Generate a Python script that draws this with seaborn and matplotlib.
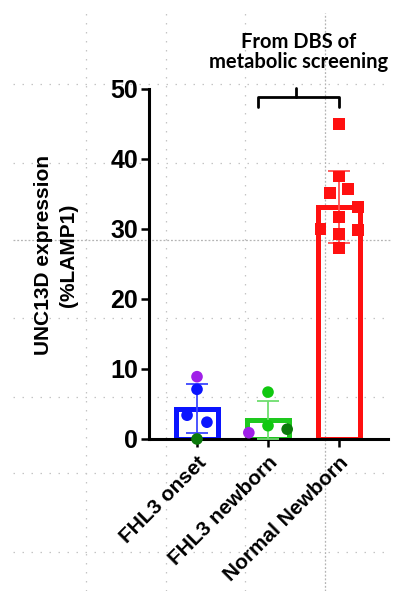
import matplotlib
matplotlib.use("Agg")
from matplotlib import pyplot as plt
from matplotlib.lines import Line2D
import seaborn as sns
import pandas as pd

# group summary (bar = mean, whisker = SD)
groups = ["FHL3 onset", "FHL3 newborn", "Normal Newborn"]
means = [4.3, 2.7, 33.2]
sds = [3.5, 2.7, 5.15]
bar_colors = ["#0a14ff", "#1ec81e", "#ff1010"]
err_colors = ["#3c46ff", "#6ede6e", "#ff5050"]

# individual samples
onset_vals = [8.9, 7.1, 3.4, 2.4, 0.0]
onset_kind = ["purple", "blue", "blue", "blue", "darkgreen"]
onset_jit = [0.0, 0.0, -0.14, 0.14, 0.0]

newborn_vals = [0.9, 6.7, 1.9, 1.4]
newborn_kind = ["purple", "green", "green", "darkgreen"]
newborn_jit = [-0.27, 0.0, 0.0, 0.27]

normal_vals = [45.0, 37.5, 35.1, 35.7, 33.1, 31.7, 30.0, 29.9, 29.3, 27.3]
normal_kind = ["red"] * 10
normal_jit = [0.0, 0.0, -0.13, 0.13, 0.27, 0.0, -0.26, 0.27, 0.0, 0.0]

dot_colors = {"purple": "#a020e8", "blue": "#0a14ff", "darkgreen": "#0b7a0b",
              "green": "#10c810", "red": "#ff1010"}

sns.set_theme(style="ticks")
plt.rcParams["font.family"] = ["Liberation Sans", "DejaVu Sans"]
plt.rcParams["text.color"] = "black"
plt.rcParams["axes.labelcolor"] = "black"
plt.rcParams["xtick.color"] = "black"
plt.rcParams["ytick.color"] = "black"

bars = pd.DataFrame({"pos": range(len(groups)), "group": groups, "mean": means})

rows = []
for i, (vals, kinds, jit) in enumerate([(onset_vals, onset_kind, onset_jit),
                                        (newborn_vals, newborn_kind, newborn_jit),
                                        (normal_vals, normal_kind, normal_jit)]):
    for v, k, j in zip(vals, kinds, jit):
        rows.append({"x": i + j, "value": v, "kind": k,
                     "shape": "square" if k == "red" else "circle"})
pts = pd.DataFrame(rows)

fig = plt.figure(figsize=(3.96, 5.91), dpi=100)
fig.patch.set_facecolor("white")
ax = fig.add_axes([149 / 396, 1 - 439 / 591, 239 / 396, 350 / 591])
ax.set_facecolor("none")

# faint slide guides in the background
for xp in [86, 166, 245]:
    fig.add_artist(Line2D([xp / 396, xp / 396], [0, 1 - 13 / 591], transform=fig.transFigure,
                          color="#c4c4c4", lw=0.9, ls=(0, (1.2, 6)), zorder=-5))
for yp in [84, 163, 318, 397, 473, 552]:
    fig.add_artist(Line2D([13 / 396, 390 / 396], [1 - yp / 591, 1 - yp / 591], transform=fig.transFigure,
                          color="#c4c4c4", lw=0.9, ls=(0, (1.2, 6)), zorder=-5))
fig.add_artist(Line2D([325 / 396, 325 / 396], [0, 1 - 13 / 591], transform=fig.transFigure,
                      color="#b4b4b4", lw=0.9, ls=(0, (1.5, 1.5)), zorder=-5))
fig.add_artist(Line2D([13 / 396, 390 / 396], [1 - 240 / 591, 1 - 240 / 591], transform=fig.transFigure,
                      color="#b4b4b4", lw=0.9, ls=(0, (1.5, 1.5)), zorder=-5))

sns.barplot(data=bars, x="pos", y="mean", hue="group", palette=bar_colors, native_scale=True,
            fill=False, width=0.6, linewidth=3.6, errorbar=None, dodge=False, legend=False, ax=ax)
for p in ax.patches:
    p.set_zorder(2)

for i in range(len(groups)):
    ax.errorbar(i, means[i], yerr=sds[i], fmt="none", ecolor=err_colors[i],
                elinewidth=1.3, capsize=8, capthick=1.3, zorder=3)

sns.scatterplot(data=pts, x="x", y="value", hue="kind", palette=dot_colors, style="shape",
                markers={"circle": "o", "square": "s"}, s=70, linewidth=0, legend=False,
                ax=ax, zorder=4, clip_on=False)

ax.set_xlim(-0.676, 2.69)
ax.set_ylim(0, 50)
ax.set_yticks([0, 10, 20, 30, 40, 50])
ax.set_xticks(range(len(groups)))
ax.set_xticklabels(groups, rotation=45, ha="right", rotation_mode="anchor",
                   fontsize=15, fontweight="bold", color="black")
for lab in ax.get_yticklabels():
    lab.set_fontsize(18)
    lab.set_fontweight("bold")
    lab.set_color("black")
ax.set_xlabel("")
ax.set_ylabel("")
sns.despine(ax=ax)
for s in ["left", "bottom"]:
    ax.spines[s].set_linewidth(2.2)
    ax.spines[s].set_color("black")
ax.tick_params(axis="y", length=6, width=1.8, pad=2, color="black")
ax.tick_params(axis="x", length=6, width=1.8, pad=4, color="black")

fig.text(56 / 396, 1 - 255 / 591, "UNC13D expression\n(%LAMP1)", rotation=90, color="black",
         ha="center", va="center", fontsize=15, fontweight="bold", linespacing=1.35)

# bracket over the newborn DBS groups
ax.plot([0.86, 0.86, 2.0, 2.0], [47.4, 48.9, 48.9, 47.4], color="black", lw=2, clip_on=False)
ax.plot([1.4, 1.4], [48.9, 50.1], color="black", lw=2, clip_on=False)
fig.text(299 / 396, 1 - 52 / 591, "From DBS of\nmetabolic screening", ha="center", va="center",
         color="black", family=["Lato", "DejaVu Sans"], fontweight="bold", fontsize=14.5,
         linespacing=1.05)

plt.savefig("out.png", dpi=100)
